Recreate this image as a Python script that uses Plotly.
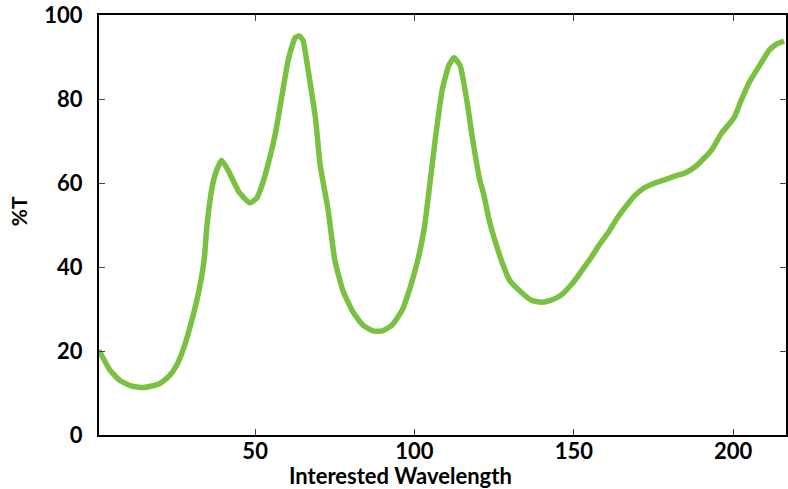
import plotly.graph_objects as go

wavelength = [1, 4.4, 7.5, 11, 15, 20, 23, 25.3, 27.5, 30.2, 32.4, 34, 34.9, 36.5, 37.8, 39.5,
              41.8, 44.9, 48.3, 50.5, 52.6, 54.8, 56.4, 58.2, 60.4, 62.6, 63.8, 65.0,
              66.6, 69, 70.4, 72.9, 75, 77.5, 80.7, 83.8, 86.9, 90, 93, 96.2, 98.4, 100.9,
              103, 104.6, 106.5, 108.7, 110.8, 112.4, 114.3, 116.4, 118.3, 120.5, 121.7,
              123.5, 125.8, 127.8, 129.8, 133.5, 136.7, 139.8, 142.9, 146, 149, 150.7,
              152.2, 155.3, 158.4, 160.9, 163.5, 166.2, 169.3, 172, 175.5, 178.7, 181.5,
              184.9, 188, 190.5, 193.3, 196.4, 198.5, 200.4, 202.6, 205.1, 208.8, 211.3, 213.5, 216]
transmittance = [20.2, 15.5, 13, 11.7, 11.3, 12.2, 14.0, 16.5, 20.5, 27.5, 34.5, 41.7, 50, 59,
                 62.8, 65.4, 62.6, 57.9, 55.3, 56.4, 60.5, 66.7, 72, 79.8, 89.3, 94.6, 95.0, 94,
                 87, 75, 64.3, 53.6, 41.7, 34.5, 29.3, 26.2, 24.8, 24.8, 26.2, 29.8, 34.5, 41.2,
                 48.8, 58.3, 70.2, 82.1, 88, 89.8, 88, 79.8, 70.2, 60.7, 57.4,
                 51, 45, 40.5, 36.9, 34, 32.1, 31.6, 32.1, 33.3, 35.6, 37.2,
                 38.8, 42.1, 45.7, 48.3, 51.5, 54.3, 57.1, 58.8, 60.0, 60.8, 61.6,
                 62.4, 63.8, 65.6, 67.9, 71.9, 73.8, 75.7, 79.8, 84.0, 88.6, 91.6, 93.0, 93.8]

x_ticks = [50, 100, 150, 200]
y_ticks = [0, 20, 40, 60, 80, 100]
x_title = "Interested Wavelength"
y_title = "%T"

fig = go.Figure()
fig.add_trace(go.Scatter(
    x=wavelength, y=transmittance, mode="lines",
    line=dict(color="rgb(122,193,66)", width=5.5, shape="spline", smoothing=0.5),
    showlegend=False, hoverinfo="skip", cliponaxis=False,
))

font_family = "Lato, Inter, sans-serif"
fig.update_layout(
    width=788, height=489,
    margin=dict(l=99, r=0, t=15, b=54),
    paper_bgcolor="white", plot_bgcolor="white",
    font=dict(family=font_family, color="black", size=20),
)
fig.update_xaxes(
    range=[1, 216.6], tickvals=x_ticks, ticks="inside", ticklen=6, tickcolor="#444",
    showline=True, linecolor="black", linewidth=2, mirror="ticks", showgrid=False, zeroline=False,
    tickfont=dict(size=22, family=font_family, color="black", weight=700),
    ticklabelstandoff=-4,
)
fig.update_yaxes(
    range=[0, 100], tickvals=y_ticks, ticks="inside", ticklen=6, tickcolor="#444",
    showline=True, linecolor="black", linewidth=2, mirror="ticks", showgrid=False, zeroline=False,
    tickfont=dict(size=22, family=font_family, color="black", weight=700),
    ticklabelstandoff=10,
)
fig.add_annotation(
    text=x_title, xref="paper", yref="paper", x=(401 - 99) / 689, y=-(475 - 435) / 420,
    xanchor="center", yanchor="middle", showarrow=False,
    font=dict(size=22, family=font_family, color="black", weight=700),
)
fig.add_annotation(
    text=y_title, xref="paper", yref="paper", x=-(99 - 18) / 689, y=(435 - 211) / 420,
    xanchor="center", yanchor="middle", showarrow=False, textangle=-90,
    font=dict(size=21, family=font_family, color="black", weight=700),
)

fig.write_html("out.html")
